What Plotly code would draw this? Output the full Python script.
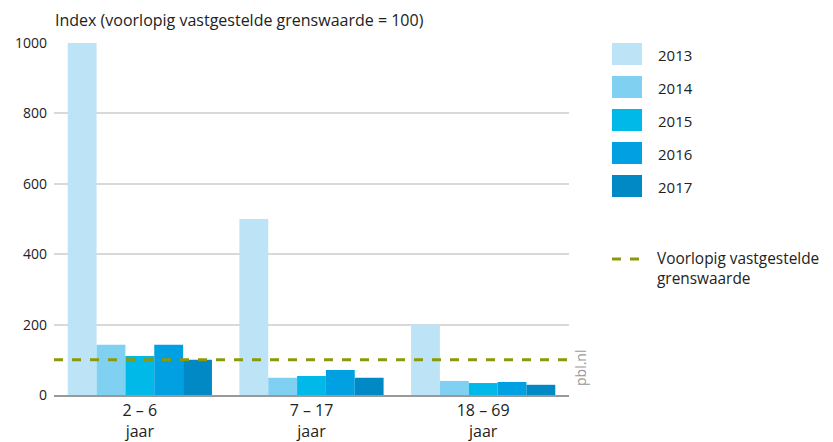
import plotly.graph_objects as go

categories = ["2 – 6<br>jaar", "7 – 17<br>jaar", "18 – 69<br>jaar"]
years = ["2013", "2014", "2015", "2016", "2017"]
v2013 = [1000, 500, 200]
v2014 = [143, 49, 40]
v2015 = [111, 54, 34]
v2016 = [143, 71, 37]
v2017 = [100, 49, 29]
threshold = 100
threshold_label = "Voorlopig vastgestelde<br>grenswaarde"
y_ticks = [0, 200, 400, 600, 800, 1000]

colors = ["#bde3f6", "#7fd0f1", "#00b9e9", "#00a0e3", "#0089c5"]
series = [v2013, v2014, v2015, v2016, v2017]

FONT = "Open Sans, Lato, sans-serif"
OFF = 8  # page body margin
fig = go.Figure()
for name, vals, c in zip(years, series, colors):
    fig.add_trace(go.Bar(x=categories, y=vals, name=name, marker=dict(color=c, line=dict(width=0)),
                         showlegend=False))

fig.add_shape(type="line", xref="paper", x0=0, x1=1, yref="y", y0=threshold, y1=threshold,
              line=dict(color="#8c9a0a", width=3, dash="dash"), layer="above")

W, H = 833 - OFF, 442 - OFF
L, T = 54 - OFF, 43 - OFF
R = W - (569 - OFF)
B = H - (395 - OFF)
pw, ph = W - L - R, H - T - B
def px(x):
    return (x - OFF - L) / pw
def py(y):
    return (H - B - (y - OFF)) / ph
for i, (name, c) in enumerate(zip(years, colors)):
    y0 = 43 + i * 33
    fig.add_shape(type="rect", xref="paper", yref="paper", x0=px(612), x1=px(642),
                  y0=py(y0 + 22), y1=py(y0), fillcolor=c, line=dict(width=0))
    fig.add_annotation(xref="paper", yref="paper", x=px(656), y=py(y0 + 12), text=name,
                       showarrow=False, xanchor="left", yanchor="middle",
                       font=dict(size=15, color="#222", family=FONT))
fig.add_shape(type="line", xref="paper", yref="paper", x0=px(612), x1=px(642), y0=py(259), y1=py(259),
              line=dict(color="#8c9a0a", width=3, dash="dash"))
fig.add_annotation(xref="paper", yref="paper", x=px(655), y=py(246), text=threshold_label,
                   showarrow=False, xanchor="left", yanchor="top", align="left",
                   font=dict(size=15.4, color="#222", family=FONT))

fig.add_annotation(xref="paper", yref="paper", x=px(580), y=py(368), text="pbl.nl", textangle=-90,
                   showarrow=False, xanchor="center", yanchor="middle",
                   font=dict(size=14, color="#999", family=FONT))
fig.add_annotation(xref="paper", yref="paper", x=px(53), y=py(20),
                   text="Index (voorlopig vastgestelde grenswaarde = 100)",
                   showarrow=False, xanchor="left", yanchor="middle",
                   font=dict(size=16, color="#222", family=FONT))

fig.update_layout(
    width=W, height=H, margin=dict(l=L, r=R, t=T, b=B, autoexpand=False),
    plot_bgcolor="white", paper_bgcolor="white",
    barmode="group", bargap=0.16, bargroupgap=0,
    font=dict(family=FONT, size=16, color="#222"),
    xaxis=dict(showgrid=False, showline=True, linecolor="#999", linewidth=1.5, ticks="",
               tickfont=dict(size=16), automargin=False),
    yaxis=dict(range=[0, 1000], tickvals=y_ticks, showgrid=True, gridcolor="#d9d9d9", gridwidth=1.5,
               zeroline=False, ticks="", tickfont=dict(size=14), automargin=False, ticklen=0,
               ticklabelstandoff=6),
)
fig.write_html("out.html")
